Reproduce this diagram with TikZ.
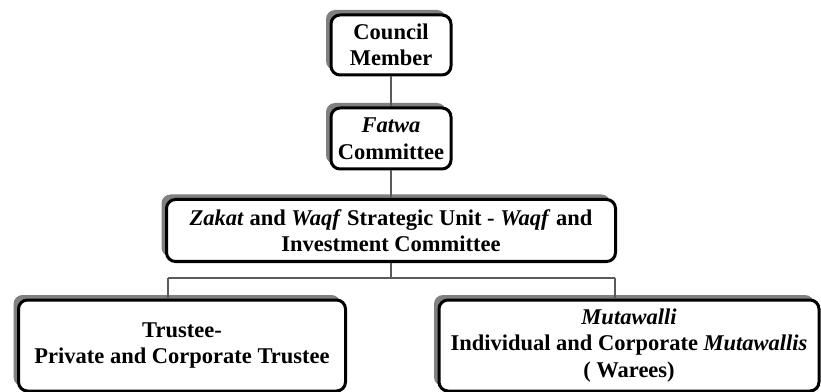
\documentclass[tikz,border=0pt]{standalone}
\usepackage{fontspec}
\setmainfont{Liberation Serif}
\usetikzlibrary{shadows}
\definecolor{shadowgray}{HTML}{808080}
\definecolor{linkgray}{HTML}{5A5A5A}

\begin{document}
\begin{tikzpicture}[x=1pt,y=1pt,
    unit/.style={draw=black, line width=3pt, rounded corners=9pt, fill=white,
        align=center, inner sep=0pt, font=\fontsize{22.5}{26.5}\selectfont\bfseries,
        drop shadow={shadow xshift=-5pt, shadow yshift=5pt, fill=shadowgray, opacity=1}},
    link/.style={draw=linkgray, line width=2pt}]
    \useasboundingbox (0,0) rectangle (821,391);

    % Draw the top boxes
    \node[unit, minimum width=120pt, minimum height=60pt] (council) at (391,346) {Council\\Member};
    \node[unit, minimum width=120pt, minimum height=61pt] (fatwa) at (391,252.5) {\textit{Fatwa}\\Committee};

    % Draw the strategic unit
    \node[unit, minimum width=449pt, minimum height=62pt] (zakat) at (391,160.5)
        {\textit{Zakat} and \textit{Waqf} Strategic Unit - \textit{Waqf} and\\Investment Committee};

    % Draw the bottom boxes
    \node[unit, minimum width=327pt, minimum height=91pt] (trustee) at (182,45.5)
        {Trustee-\\Private and Corporate Trustee};
    \node[unit, minimum width=380pt, minimum height=91pt] (mutawalli) at (629,45.5)
        {\textit{Mutawalli}\\Individual and Corporate \textit{Mutawallis}\\( Warees)};

    % Draw the connectors
    \draw[link] (council.south) -- (fatwa.north);
    \draw[link] (fatwa.south) -- (zakat.north);
    \coordinate (busL) at (168,113);
    \coordinate (busR) at (615,113);
    \draw[link] (zakat.south) -- (zakat.south |- busL);
    \draw[link] (busL) -- (busR);
    \draw[link] (busL) -- (busL |- trustee.north);
    \draw[link] (busR) -- (busR |- mutawalli.north);
\end{tikzpicture}
\end{document}
